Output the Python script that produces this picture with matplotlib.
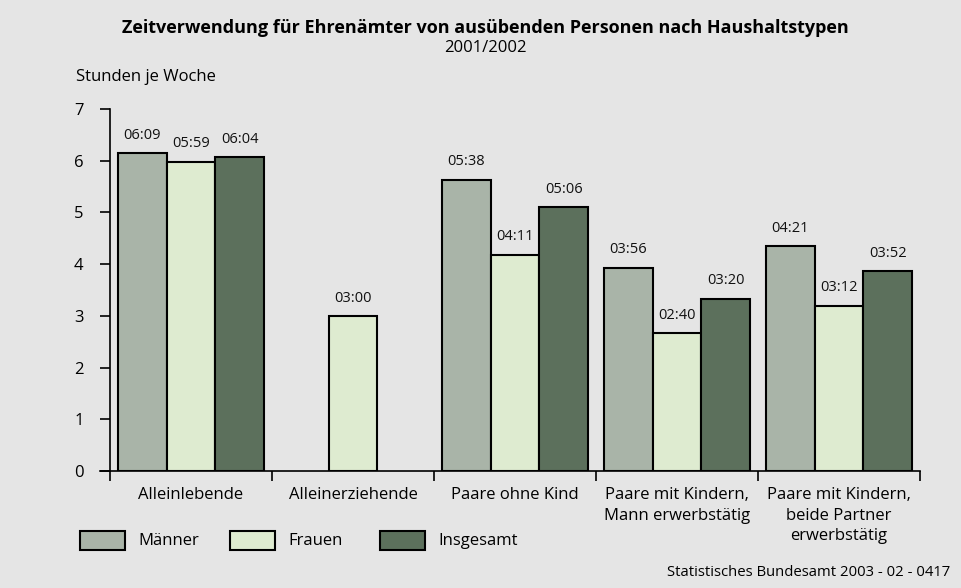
import matplotlib.pyplot as plt
from matplotlib.patches import Rectangle
import numpy as np

plt.rcParams['font.family'] = ['Open Sans', 'DejaVu Sans']

categories = ["Alleinlebende", "Alleinerziehende", "Paare ohne Kind",
              "Paare mit Kindern,\nMann erwerbstätig",
              "Paare mit Kindern,\nbeide Partner\nerwerbstätig"]
series = ["Männer", "Frauen", "Insgesamt"]
# hh:mm per series, None = no value
maenner = ["06:09", None, "05:38", "03:56", "04:21"]
frauen = ["05:59", "03:00", "04:11", "02:40", "03:12"]
insgesamt = ["06:04", None, "05:06", "03:20", "03:52"]
colors = ["#a9b4a8", "#deebd0", "#5c705c"]


def to_hours(s):
    h, m = s.split(":")
    return int(h) + int(m) / 60.0


def main():
    fig = plt.figure(figsize=(9.61, 5.88), dpi=100)
    fig.patch.set_facecolor("#e5e5e5")
    ax = fig.add_axes([110 / 961, 1 - 471 / 588, 810 / 961, 362 / 588])
    ax.set_facecolor("#e5e5e5")

    n = len(categories)
    bw = 0.3
    for j, data in enumerate([maenner, frauen, insgesamt]):
        for i, s in enumerate(data):
            if s is None:
                continue
            v = to_hours(s)
            x = i + 0.05 + j * bw
            ax.bar(x, v, width=bw, align="edge", color=colors[j],
                   edgecolor="black", linewidth=1.5, zorder=3)
            ax.text(x + bw / 2, v + 0.2, s, ha="center", va="bottom",
                    fontsize=10.5, color="#111111")

    ax.set_xlim(0, n)
    ax.set_ylim(0, 7)
    ax.set_yticks(range(8))
    ax.tick_params(axis="y", length=7, width=1.2, labelsize=12, pad=12)
    ax.set_xticks(np.arange(n + 1))
    ax.set_xticklabels([])
    ax.tick_params(axis="x", length=7, width=1.2)
    for i, c in enumerate(categories):
        ax.text(i + 0.5, -0.31, c, ha="center", va="top", fontsize=12,
                linespacing=1.38)
    for sp in ["top", "right"]:
        ax.spines[sp].set_visible(False)
    ax.spines["left"].set_linewidth(1.2)
    ax.spines["bottom"].set_linewidth(1.2)
    ax.spines["bottom"].set_bounds(-0.06, n)

    fig.text(485 / 961, 1 - 28 / 588, "Zeitverwendung für Ehrenämter von ausübenden Personen nach Haushaltstypen",
             ha="center", va="center", fontsize=13, fontweight="bold")
    fig.text(485 / 961, 1 - 48 / 588, "2001/2002", ha="center", va="center", fontsize=12)
    fig.text(76 / 961, 1 - 77 / 588, "Stunden je Woche", ha="left", va="center", fontsize=12)

    # legend
    lx = [80, 230, 380]
    for k in range(3):
        fig.patches.append(Rectangle((lx[k] / 961, 1 - 550 / 588), 45 / 961, 19 / 588,
                                     transform=fig.transFigure, facecolor=colors[k],
                                     edgecolor="black", linewidth=1.5))
        fig.text((lx[k] + 58) / 961, 1 - 541 / 588, series[k], ha="left", va="center", fontsize=12)

    fig.text(950 / 961, 1 - 573 / 588, "Statistisches Bundesamt 2003 - 02 - 0417",
             ha="right", va="center", fontsize=10.7)

    fig.savefig("out.png", dpi=100, facecolor=fig.get_facecolor())


if __name__ == '__main__':
    main()
